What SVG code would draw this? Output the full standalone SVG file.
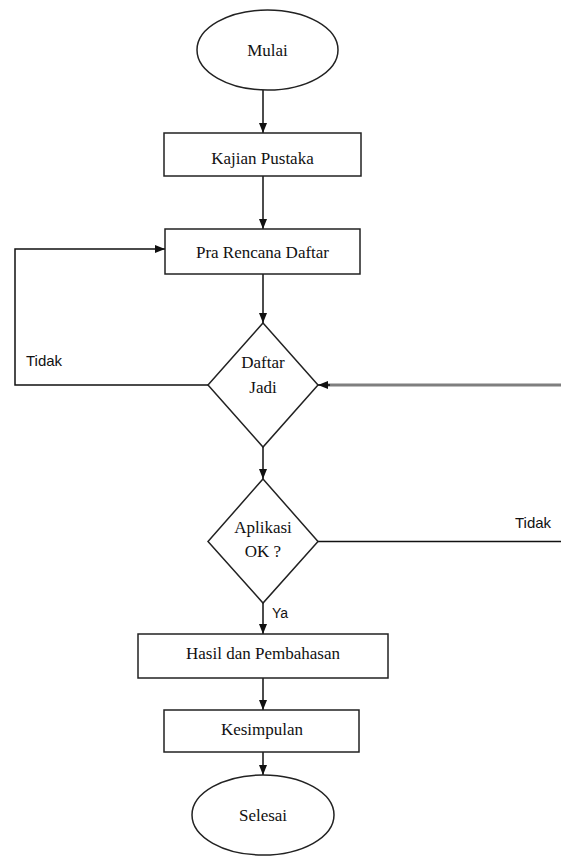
<svg xmlns="http://www.w3.org/2000/svg" width="561" height="859" viewBox="0 0 561 859">
<style>
.shape{fill:#fff;stroke:#222;stroke-width:1.5}
.t{font-family:"Liberation Serif","Times New Roman",serif;font-size:17px;fill:#111;text-anchor:middle}
.s{font-family:"Liberation Sans",Arial,sans-serif;font-size:15px;fill:#111}
.c{fill:none;stroke:#111;stroke-width:1.5}
.g{fill:none;stroke:#7f7f7f;stroke-width:3}
</style>
<defs>
<marker id="ah" markerUnits="userSpaceOnUse" markerWidth="10" markerHeight="10" viewBox="0 0 10 10" refX="10" refY="5" orient="auto">
<path d="M0,1 L10,5 L0,9 Z" fill="#111"/>
</marker>
</defs>
<rect width="561" height="859" fill="#fff"/>
<g id="connectors">
<line class="c" x1="263" y1="90" x2="263" y2="133" marker-end="url(#ah)"/>
<line class="c" x1="263" y1="176" x2="263" y2="229" marker-end="url(#ah)"/>
<line class="c" x1="263" y1="274" x2="263" y2="323" marker-end="url(#ah)"/>
<polyline class="c" points="208,385 15,385 15,249 165,249" marker-end="url(#ah)"/>
<line class="g" x1="561" y1="385" x2="326" y2="385"/>
<line class="c" x1="330" y1="385" x2="318" y2="385" marker-end="url(#ah)"/>
<line class="c" x1="263" y1="447" x2="263" y2="479" marker-end="url(#ah)"/>
<line class="c" x1="318" y1="541.5" x2="561" y2="541.5"/>
<line class="c" x1="263" y1="603" x2="263" y2="634" marker-end="url(#ah)"/>
<line class="c" x1="263" y1="678" x2="263" y2="710" marker-end="url(#ah)"/>
<line class="c" x1="263" y1="752" x2="263" y2="775" marker-end="url(#ah)"/>
<text class="s" x="26" y="366">Tidak</text>
<text class="s" x="515" y="528">Tidak</text>
<text class="s" x="272" y="618" style="font-size:14px">Ya</text>
</g>
<g id="mulai">
<ellipse class="shape" cx="267.5" cy="50" rx="70.5" ry="40"/>
<text class="t" x="267.5" y="56">Mulai</text>
</g>
<g id="kajian">
<rect class="shape" x="164" y="133" width="197" height="43"/>
<text class="t" x="262.5" y="164">Kajian Pustaka</text>
</g>
<g id="pra">
<rect class="shape" x="165" y="229" width="195" height="45"/>
<text class="t" x="262.5" y="258">Pra Rencana Daftar</text>
</g>
<g id="daftar">
<polygon class="shape" points="263,323 318,385 263,447 208,385"/>
<text class="t" x="263" y="368">Daftar</text>
<text class="t" x="263" y="393">Jadi</text>
</g>
<g id="aplikasi">
<polygon class="shape" points="263,479 318,541.5 263,603 208,541.5"/>
<text class="t" x="263" y="533">Aplikasi</text>
<text class="t" x="263" y="557">OK ?</text>
</g>
<g id="hasil">
<rect class="shape" x="138" y="634" width="250" height="44"/>
<text class="t" x="263" y="659">Hasil dan Pembahasan</text>
</g>
<g id="kesimpulan">
<rect class="shape" x="164" y="710" width="195" height="42"/>
<text class="t" x="262" y="735">Kesimpulan</text>
</g>
<g id="selesai">
<ellipse class="shape" cx="263" cy="815" rx="71" ry="40"/>
<text class="t" x="263" y="821">Selesai</text>
</g>
</svg>
